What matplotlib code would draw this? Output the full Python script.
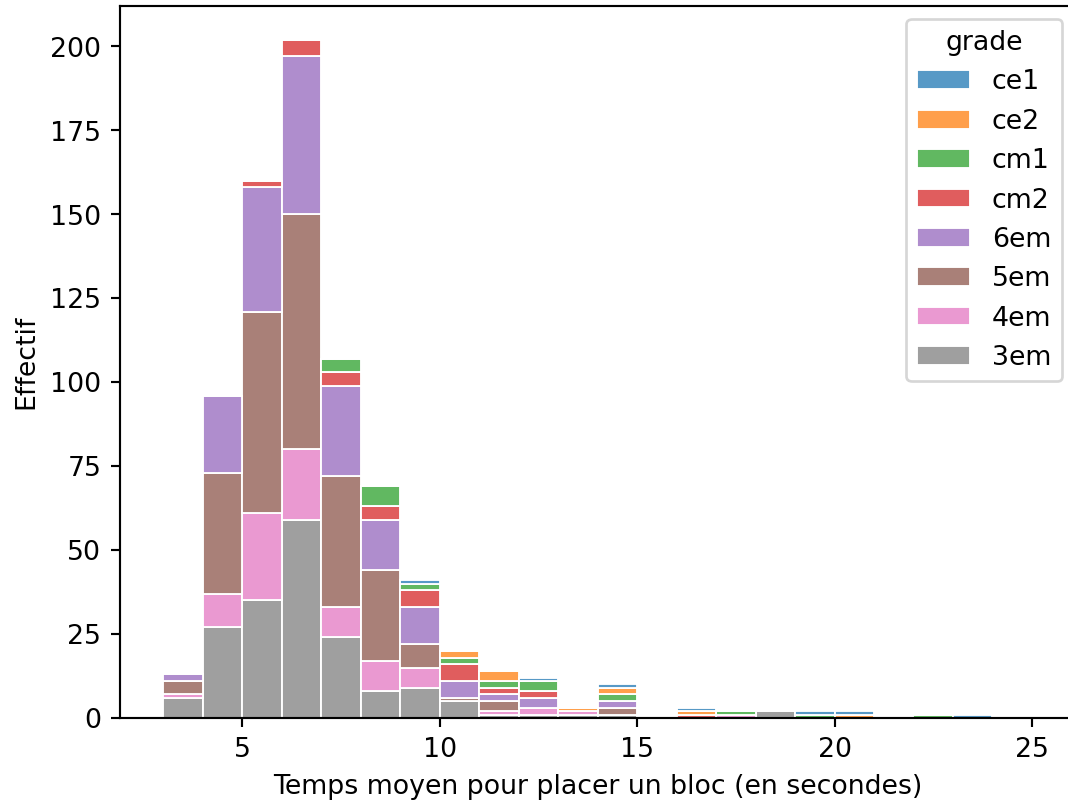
import numpy as np
import pandas as pd
import matplotlib
matplotlib.use('Agg')
import matplotlib.pyplot as plt
import seaborn as sns

# histogram bins (1 s wide, last one empty)
bin_edges = np.arange(3, 26)
bin_centers = bin_edges[:-1] + 0.5

grades = ['ce1', 'ce2', 'cm1', 'cm2', '6em', '5em', '4em', '3em']

# counts per bin for each grade
n_ce1 = [0, 0, 0, 0, 0, 0, 1, 0, 0, 1, 0, 1, 0, 1, 0, 0, 1, 1, 0, 0, 1, 0]
n_ce2 = [0, 0, 0, 0, 0, 0, 0, 2, 3, 0, 1, 2, 0, 1, 0, 0, 0, 1, 0, 0, 0, 0]
n_cm1 = [0, 0, 0, 0, 4, 6, 2, 2, 2, 3, 0, 2, 0, 0, 1, 0, 1, 0, 0, 1, 0, 0]
n_cm2 = [0, 0, 2, 5, 4, 4, 5, 5, 2, 2, 0, 0, 0, 1, 0, 0, 0, 0, 0, 0, 0, 0]
n_6em = [2, 23, 37, 47, 27, 15, 11, 5, 2, 3, 0, 2, 0, 0, 0, 0, 0, 0, 0, 0, 0, 0]
n_5em = [4, 36, 60, 70, 39, 27, 7, 1, 3, 0, 0, 2, 0, 0, 0, 0, 0, 0, 0, 0, 0, 0]
n_4em = [1, 10, 26, 21, 9, 9, 6, 0, 1, 2, 1, 0, 0, 0, 1, 0, 0, 0, 0, 0, 0, 0]
n_3em = [6, 27, 35, 59, 24, 8, 9, 5, 1, 1, 1, 1, 0, 0, 0, 2, 0, 0, 0, 0, 0, 0]

counts = [n_ce1, n_ce2, n_cm1, n_cm2, n_6em, n_5em, n_4em, n_3em]

rows = []
for g, c in zip(grades, counts):
    for x, n in zip(bin_centers, c):
        rows.append({'temps': x, 'n': n, 'grade': g})
df = pd.DataFrame(rows)

DPI = 192.5
fig = plt.figure(figsize=(1068.3 / DPI, 807.3 / DPI), dpi=DPI)
# the reference is a crop: the right spine sits just outside the picture
ax = fig.add_axes([120 / 1068, 89 / 807, 955 / 1068, 712 / 807])

sns.histplot(data=df, x='temps', weights='n', hue='grade', hue_order=grades,
             multiple='stack', binwidth=1, binrange=(bin_edges[0], bin_edges[-1]),
             edgecolor='white', linewidth=0.7, ax=ax)

ax.set_xlabel('Temps moyen pour placer un bloc (en secondes)')
ax.set_ylabel('Effectif')

fig.savefig('out.png', dpi=DPI)
